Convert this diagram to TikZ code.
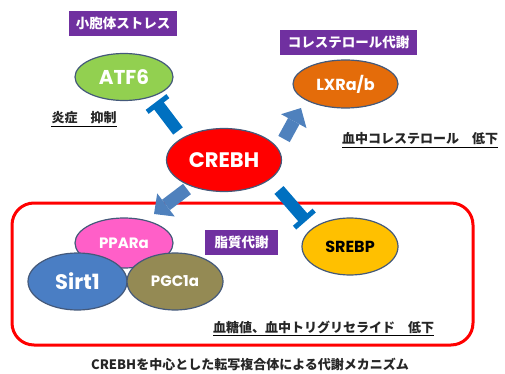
\documentclass[tikz,border=0pt]{standalone}
\usepackage{fontspec}
\usetikzlibrary{shapes.geometric,arrows.meta}
\newfontfamily\jp{Noto Sans CJK JP}
\newfontfamily\lab{Poppins}
\definecolor{purp}{HTML}{7030A0}
\definecolor{arrblue}{HTML}{4F81BD}
\definecolor{tblue}{HTML}{0070C0}
\definecolor{edgec}{HTML}{44597A}
\definecolor{atfc}{HTML}{92D050}
\definecolor{lxrc}{HTML}{E46C0A}
\definecolor{srebpc}{HTML}{FFC000}
\definecolor{pparc}{HTML}{FF5FC8}
\definecolor{sirtc}{HTML}{4A7EC4}
\definecolor{pgcc}{HTML}{948A54}
\definecolor{notec}{HTML}{262626}
\begin{document}
\begin{tikzpicture}[x=1pt,y=-1pt,
  bubble/.style={ellipse, draw=edgec, line width=1.2pt, inner sep=0pt, text=white},
  lbl/.style={font=\lab\bfseries\fontsize{#1}{#1}\selectfont},
  tag/.style={fill=purp, text=white, inner sep=0pt, minimum height=25pt,
    font=\jp\bfseries\fontsize{13.5}{14}\selectfont},
  note/.style={text=notec, inner xsep=0pt, inner ysep=2pt, font=\jp\bfseries\fontsize{13}{14}\selectfont},
  uline/.style={draw=black, line width=1.3pt},
  blockarrow/.style={draw=arrblue, line width=13pt,
    -{Triangle[length=15pt,width=29pt,line width'=0pt]}},
  inhibit/.style={draw=tblue, line width=12pt,
    -{Bar[width=26pt,line width'=5pt]}}
]
\useasboundingbox (0,0) rectangle (505,374);

% frame
\node[draw=red, line width=3pt, rounded corners=22pt, minimum width=461pt,
  minimum height=142pt, inner sep=0pt] (frame) at (242.5,274) {};

% tags
\node[tag, minimum width=108pt] (tagER) at (123,23.5) {小胞体ストレス};
\node[tag, minimum width=137pt] (tagChol) at (348.5,42.5) {コレステロール代謝};
\node[tag, minimum width=73pt] (tagLip) at (241.5,242.5) {脂質代謝};

% ellipses
\node[bubble, fill=atfc, minimum width=98pt, minimum height=47pt, lbl=20] (atf) at (124,77) {ATF6};
\node[bubble, fill=lxrc, minimum width=105pt, minimum height=48pt, lbl=16] (lxr) at (345.5,84) {LXRa/b};
\node[bubble, fill=red, minimum width=115pt, minimum height=63pt, lbl=21] (crebh) at (224,160) {CREBH};
\node[bubble, fill=srebpc, text=black, minimum width=96pt, minimum height=57pt, lbl=16] (srebp) at (350,246.5) {SREBP};
\node[bubble, fill=pparc, minimum width=98pt, minimum height=50pt, lbl=15] (ppar) at (124,243) {PPARa};
\node[bubble, fill=sirtc, minimum width=99pt, minimum height=57pt, lbl=21] (sirt) at (77.5,281.5) {Sirt1};
\node[bubble, fill=pgcc, minimum width=96pt, minimum height=57pt, lbl=15] (pgc) at (175,281.5) {PGC1a};

% connector end points
\coordinate (aLs) at (284,139);
\coordinate (aLe) at (301,108);
\coordinate (aPs) at (187,189);
\coordinate (aPe) at (154,214);
\coordinate (tAs) at (178,131);
\coordinate (tAe) at (156,102);
\coordinate (tSs) at (279,190);
\coordinate (tSe) at (306,221);

\draw[blockarrow] (aLs) -- (aLe);
\draw[blockarrow] (aPs) -- (aPe);
\draw[inhibit] (tAs) -- (tAe);
\draw[inhibit] (tSs) -- (tSe);

% notes
\node[note] (n1) at (84,118) {炎症　抑制};
\node[note, anchor=west] (n2) at (342,139) {血中コレステロール　低下};
\node[note, anchor=west] (n3) at (213,327) {血糖値、血中トリグリセライド　低下};
\node[note] (cap) at (250,364) {CREBHを中心とした転写複合体による代謝メカニズム};
\draw[uline] (n1.south west) -- (n1.south east);
\draw[uline] (n2.south west) -- (n2.south east);
\draw[uline] (n3.south west) -- (n3.south east);
\end{tikzpicture}
\end{document}
